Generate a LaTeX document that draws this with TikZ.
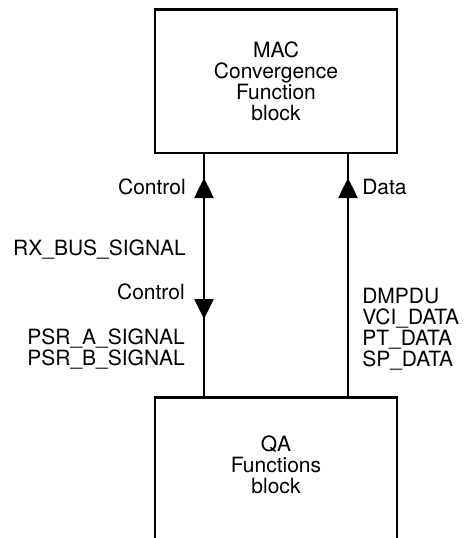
\documentclass[tikz,border=0pt]{standalone}
\usepackage{fontspec}
\setmainfont{TeX Gyre Heros}
\usetikzlibrary{arrows.meta,positioning}

\begin{document}
\begin{tikzpicture}[x=0.5pt,y=0.5pt,>=Latex,font=\fontsize{10.5}{10.5}\selectfont,line width=1.3pt,
    blk/.style={draw,minimum width=121pt,align=center,inner sep=0pt},
    lab/.style={inner sep=0pt,align=left},
    arr/.style={-{Triangle[width=9.5pt,length=10pt]}}]
  \clip (0,0) rectangle (465,538);
  % blocks
  \node[blk,minimum height=71.75pt] (mac) at (276,456.75)
       {MAC\\Convergence\\Function\\block};
  \node[blk,minimum height=100pt,anchor=north] (qa) at (276,142) {};
  \node[align=center,inner sep=0pt] (qatxt) at (276,73) {QA\\Functions\\block};
  % control and data paths
  \coordinate (ctlbot) at (qa.north -| 204,0);
  \coordinate (ctltop) at (mac.south -| 204,0);
  \coordinate (datbot) at (qa.north -| 348,0);
  \coordinate (dattop) at (mac.south -| 348,0);
  \draw (ctlbot) -- (ctltop);
  \draw (datbot) -- (dattop);
  \foreach \xx/\ya/\yb in {204/340/360,204/239/219,348/340/360}
    \draw[arr] (\xx,\ya) -- (\xx,\yb);
  % labels
  \node[lab,anchor=base east] (ctlup) at (187,344) {Control};
  \node[lab,anchor=base west] (datlab) at (361,344) {Data};
  \node[lab,anchor=base east] (rxlab) at (187,283) {RX\_BUS\_SIGNAL};
  \node[lab,anchor=base east] (ctldn) at (186,239) {Control};
  \node[lab,anchor=north east] (psrlab) at (186,210) {PSR\_A\_SIGNAL\\PSR\_B\_SIGNAL};
  \node[lab,anchor=north west] (datlist) at (361,251) {DMPDU\\VCI\_DATA\\PT\_DATA\\SP\_DATA};
\end{tikzpicture}
\end{document}
